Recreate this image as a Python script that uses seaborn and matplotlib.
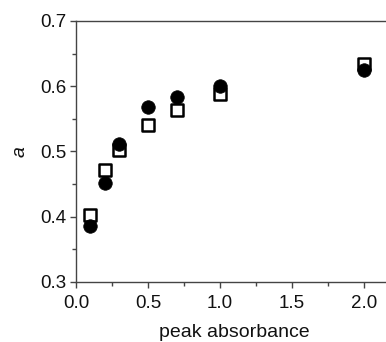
import matplotlib
matplotlib.use("Agg")
import matplotlib.pyplot as plt
import seaborn as sns
import pandas as pd
from matplotlib.ticker import MultipleLocator, FormatStrFormatter

x_vals = [0.1, 0.2, 0.3, 0.5, 0.7, 1.0, 2.0]
open_sq = [0.403, 0.471, 0.503, 0.541, 0.564, 0.588, 0.634]
filled_circ = [0.386, 0.451, 0.511, 0.568, 0.583, 0.600, 0.625]

sns.set_style("ticks")
plt.rcParams['font.family'] = ['Liberation Sans', 'DejaVu Sans']

fig = plt.figure(figsize=(3.86, 3.42), dpi=100)
ax = fig.add_axes([76/386, 1-282/342, (393-76)/386, (282-21)/342])

df_sq = pd.DataFrame({"x": x_vals, "y": open_sq})
df_ci = pd.DataFrame({"x": x_vals, "y": filled_circ})

sns.scatterplot(data=df_sq, x="x", y="y", ax=ax, marker="s", s=72,
                facecolor="white", edgecolor="black", linewidth=1.8, zorder=3)
sns.scatterplot(data=df_ci, x="x", y="y", ax=ax, marker="o", s=95,
                color="black", edgecolor="black", linewidth=0.5, zorder=4)

ax.set_xlim(0, 2.2)
ax.set_ylim(0.3, 0.7)
ax.xaxis.set_major_locator(MultipleLocator(0.5))
ax.xaxis.set_minor_locator(MultipleLocator(0.25))
ax.yaxis.set_major_locator(MultipleLocator(0.1))
ax.yaxis.set_minor_locator(MultipleLocator(0.05))
ax.xaxis.set_major_formatter(FormatStrFormatter('%.1f'))
ax.yaxis.set_major_formatter(FormatStrFormatter('%.1f'))

for side in ["left", "bottom", "top"]:
    ax.spines[side].set_visible(True)
    ax.spines[side].set_color("#444444")
    ax.spines[side].set_linewidth(1.0)
ax.spines["right"].set_visible(False)

ax.tick_params(which="major", direction="out", length=4, width=1, color="#444444",
               labelsize=13.5, labelcolor="#111111", pad=3, top=False, right=False)
ax.tick_params(axis="x", which="major", pad=5)
ax.tick_params(which="minor", direction="out", length=3, width=1, color="#444444",
               top=False, right=False)

ax.set_xlabel("peak absorbance", fontsize=14, color="#111111", labelpad=9)
ax.set_ylabel("a", fontsize=14, fontstyle="italic", color="#111111", labelpad=8)

fig.savefig("out.png", dpi=100)
